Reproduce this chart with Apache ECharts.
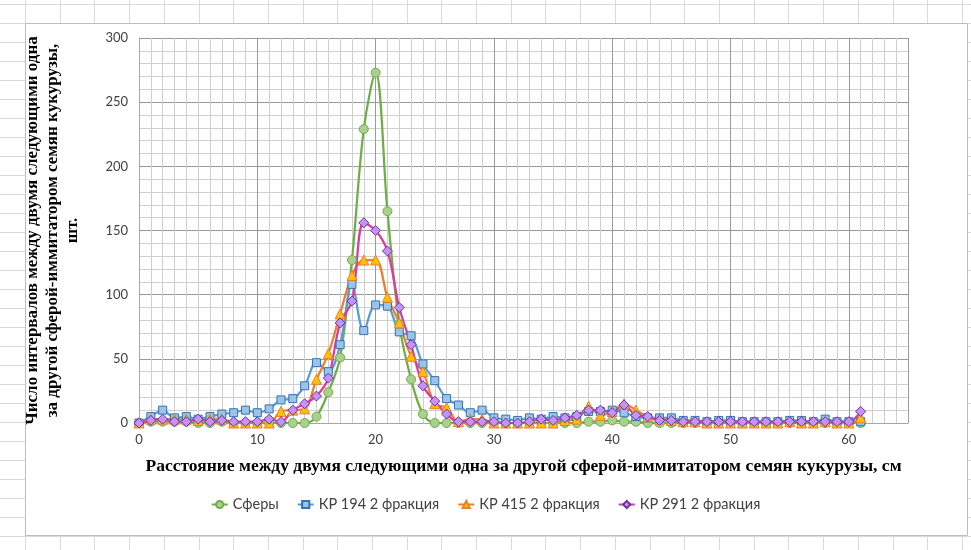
<!DOCTYPE html>
<html>
<head>
<meta charset="utf-8">
<script src="https://cdn.jsdelivr.net/npm/echarts@6/dist/echarts.min.js"></script>
<style>
  html, body { margin: 0; padding: 0; background: #fff; }
  #chart { width: 971px; height: 550px; }
</style>
</head>
<body>
<div id="chart"></div>
<script>
// Distance between consecutive spheres, cm
const distances = [0,1,2,3,4,5,6,7,8,9,10,11,12,13,14,15,16,17,18,19,20,21,22,23,24,25,26,27,28,29,30,
  31,32,33,34,35,36,37,38,39,40,41,42,43,44,45,46,47,48,49,50,51,52,53,54,55,56,57,58,59,60,61];

// Number of intervals, pcs
const spheres = [0,1,1,1,1,0,0,1,0,0,0,0,0,0,0,5,24,51,127,229,273,165,77,34,7,0,0,0,0,0,0,
  0,0,0,0,0,0,0,1,1,2,1,1,0,0,0,0,0,0,0,0,0,0,0,0,0,0,0,0,0,0,0];
const kr194 = [0,5,10,4,5,3,5,7,8,10,8,11,18,19,29,47,40,61,108,72,92,91,71,68,46,33,19,14,8,10,4,
  3,2,4,3,5,4,5,9,9,10,8,5,4,4,4,2,2,1,2,2,1,1,1,1,2,2,1,3,1,1,1];
const kr415 = [0,3,3,3,3,2,3,3,0,0,0,0,9,10,11,34,54,85,115,127,127,98,78,52,40,15,12,1,3,3,0,
  0,0,0,0,0,2,3,13,6,9,15,10,5,3,2,1,1,0,0,0,0,0,0,0,1,0,0,1,0,0,4];
const kr291 = [0,2,3,1,1,3,1,2,1,1,1,3,1,10,15,21,35,78,95,156,150,134,90,61,29,17,7,1,1,1,1,
  0,0,1,3,2,4,6,10,10,8,14,6,5,2,2,1,1,1,1,1,1,1,1,1,1,1,1,1,1,1,9];

const seriesNames = ['Сферы', 'КР 194 2 фракция', 'КР 415 2 фракция', 'КР 291 2 фракция'];
const xTitle = 'Расстояние между двумя следующими одна за другой сферой-иммитатором семян кукурузы, см';
const yTitle = 'Число интервалов между двумя следующими одна\nза другой сферой-иммитатором семян кукурузы,\nшт.';

const pairs = ys => distances.map((d, i) => [d, ys[i]]);

// Spreadsheet cells behind the chart box
const sheet = [];
for (let x = 25; x < 971; x += 34.7) {
  sheet.push({ type: 'line', silent: true, z: -20,
    shape: { x1: Math.round(x) + 0.5, y1: 0, x2: Math.round(x) + 0.5, y2: 550 },
    style: { stroke: '#DADADA', lineWidth: 1 } });
}
for (let y = 4; y < 550; y += 19) {
  sheet.push({ type: 'line', silent: true, z: -20,
    shape: { x1: 0, y1: Math.round(y) + 0.5, x2: 971, y2: Math.round(y) + 0.5 },
    style: { stroke: '#DADADA', lineWidth: 1 } });
}
sheet.push({ type: 'rect', silent: true, z: -10,
  shape: { x: 25.5, y: 23.5, width: 942, height: 512 },
  style: { fill: '#fff', stroke: '#BDBDBD', lineWidth: 1 } });

const serif = '"Liberation Serif", "DejaVu Serif", serif';
const sans = 'Lato, "Open Sans", sans-serif';

const chart = echarts.init(document.getElementById('chart'), null, { renderer: 'canvas' });
chart.setOption({
  animation: false,
  backgroundColor: '#fff',
  graphic: sheet,
  grid: { left: 139, right: 63, top: 38, bottom: 127, containLabel: false },
  legend: {
    top: 492,
    left: 'center',
    itemGap: 18,
    itemWidth: 16,
    itemHeight: 9,
    textStyle: { fontFamily: sans, fontSize: 14.5, color: '#404040' },
    data: seriesNames
  },
  xAxis: {
    type: 'value',
    min: 0, max: 65, interval: 10,
    name: xTitle,
    nameLocation: 'middle',
    nameGap: 34,
    nameTextStyle: { fontFamily: serif, fontSize: 17.5, fontWeight: 'bold', color: '#000' },
    axisLine: { show: true, onZero: false, lineStyle: { color: '#A6A6A6', width: 1 } },
    axisTick: { show: false },
    axisLabel: { fontFamily: sans, fontSize: 13, color: '#404040', margin: 10, showMaxLabel: false },
    splitLine: { show: true, lineStyle: { color: '#9A9A9A', width: 1 } },
    minorTick: { show: false, splitNumber: 10 },
    minorSplitLine: { show: true, lineStyle: { color: '#CFCFCF', width: 1 } }
  },
  yAxis: {
    type: 'value',
    min: 0, max: 300, interval: 50,
    name: yTitle,
    nameLocation: 'middle',
    nameRotate: 90,
    nameGap: 56,
    nameTextStyle: { fontFamily: serif, fontSize: 17, fontWeight: 'bold', color: '#000', lineHeight: 20, align: 'center' },
    axisLine: { show: true, lineStyle: { color: '#A6A6A6', width: 1 } },
    axisTick: { show: false },
    axisLabel: { fontFamily: sans, fontSize: 13, color: '#404040', margin: 11 },
    splitLine: { show: true, lineStyle: { color: '#9A9A9A', width: 1 } },
    minorTick: { show: false, splitNumber: 5 },
    minorSplitLine: { show: true, lineStyle: { color: '#CFCFCF', width: 1 } }
  },
  series: [
    {
      name: seriesNames[0], type: 'line', data: pairs(spheres), smooth: 0.35,
      symbol: 'circle', symbolSize: 9,
      lineStyle: { color: '#70AD47', width: 2.25 },
      itemStyle: { color: '#A9D18E', borderColor: '#70AD47', borderWidth: 1 }
    },
    {
      name: seriesNames[1], type: 'line', data: pairs(kr194), smooth: 0.35,
      symbol: 'rect', symbolSize: 8,
      lineStyle: { color: '#5B9BD5', width: 2.25 },
      itemStyle: { color: '#9DC3E6', borderColor: '#2E75B6', borderWidth: 1 }
    },
    {
      name: seriesNames[2], type: 'line', data: pairs(kr415), smooth: 0.35,
      symbol: 'triangle', symbolSize: 10,
      lineStyle: { color: '#ED7D31', width: 2.25 },
      itemStyle: { color: '#FFC000', borderColor: '#ED7D31', borderWidth: 1 }
    },
    {
      name: seriesNames[3], type: 'line', data: pairs(kr291), smooth: 0.35,
      symbol: 'diamond', symbolSize: 10,
      lineStyle: { color: '#DA3C9E', width: 2.25 },
      itemStyle: { color: '#C592F7', borderColor: '#7030A0', borderWidth: 1 }
    }
  ]
});
</script>
</body>
</html>
